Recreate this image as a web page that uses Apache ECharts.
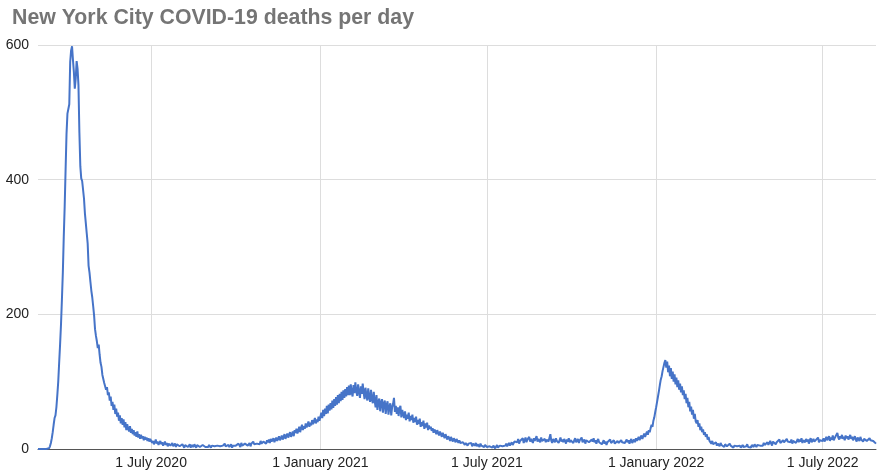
<!DOCTYPE html>
<html>
<head>
<meta charset="utf-8">
<title>New York City COVID-19 deaths per day</title>
<script src="https://cdn.jsdelivr.net/npm/echarts@6/dist/echarts.min.js"></script>
<style>
  html, body { margin: 0; padding: 0; background: #ffffff; }
  #chart { width: 877px; height: 475px; }
</style>
</head>
<body>
<div id="chart"></div>
<script>
// Daily deaths, one value per day starting on startDate.
const startDate = '2020-02-29';

// 29 Feb 2020 – 31 Dec 2020
const deaths2020 = [
  0,
  // March
  0,0,0,0,0,0,0,0,0,0,0,1,4,9,16,25,36,46,50,62,80,100,128,155,185,222,262,315,360,415,468,
  // April
  498,505,512,575,592,598,578,560,535,550,576,565,540,470,420,402,398,385,372,350,335,320,305,272,262,248,235,225,212,198,
  // May
  178,168,160,150,155,140,128,122,110,104,98,100,88,92,80,84,72,78,64,70,58,66,52,60,48,54,42,50,38,46,36,
  // June
  44,32,40,28,37,30,26,34,24,30,22,28,20,25,18,26,17,22,15,21,16,19,13,18,14,17,12,16,11,15,
  // July
  13,9,12,7,10,14,8,11,6,9,12,7,10,5,8,11,6,9,4,8,10,5,7,9,4,6,8,3,7,5,9,
  // August
  4,6,3,7,5,2,6,4,8,3,5,7,2,6,4,3,7,5,2,6,4,8,3,5,2,6,4,7,3,5,4,
  // September
  3,6,4,2,5,7,3,4,6,2,5,3,7,4,2,6,5,3,8,4,2,5,6,3,4,7,2,5,4,6,
  // October
  5,7,4,8,6,3,9,5,7,4,8,6,10,5,7,9,4,8,6,11,7,5,9,8,6,10,7,12,8,6,11,
  // November
  9,12,8,13,10,14,9,15,11,13,16,10,14,17,12,15,19,13,16,20,14,18,22,15,19,23,17,21,25,18,
  // December
  22,26,19,28,24,30,23,27,33,25,31,36,28,34,30,38,32,36,41,33,39,35,43,37,41,46,38,44,40,48,42
];

// 1 Jan 2021 – 31 Dec 2021
const deaths2021 = [
  // January
  44,54,46,58,49,60,52,64,53,66,57,68,59,72,61,74,64,77,66,80,68,82,71,85,73,87,76,89,78,92,80,
  // February
  94,80,96,84,78,95,83,99,86,79,96,85,76,93,82,97,84,74,91,80,72,90,77,70,88,74,68,85,
  // March
  72,62,80,58,70,75,56,69,74,54,67,72,52,65,71,51,63,68,50,62,67,76,55,64,52,62,49,60,64,47,58,
  // April
  52,46,56,43,51,45,54,41,49,43,51,39,46,40,48,36,43,37,45,33,40,34,42,30,38,32,39,28,35,30,
  // May
  33,27,31,24,29,26,22,28,24,20,26,22,18,24,20,16,22,18,14,19,16,12,18,14,11,16,13,10,15,12,9,
  // June
  13,9,11,7,10,12,6,9,11,5,8,10,6,9,4,8,7,5,9,4,7,6,3,8,5,4,7,3,6,4,
  // July
  3,5,2,4,6,3,2,5,4,1,3,6,2,4,5,3,7,4,2,6,5,8,4,6,9,5,7,10,6,8,11,
  // August
  9,13,10,15,8,12,14,11,16,9,13,17,10,14,12,18,11,15,13,9,16,12,14,19,11,15,13,10,17,12,14,
  // September
  12,15,10,14,16,11,13,22,12,9,15,13,10,16,12,14,9,13,17,11,14,10,15,12,8,14,11,16,10,13,
  // October
  11,14,9,13,16,10,12,15,9,13,11,17,10,12,14,8,13,11,15,10,12,9,14,11,16,10,13,8,12,15,10,
  // November
  9,12,7,10,13,8,11,6,10,12,8,14,9,7,11,13,8,10,6,12,9,11,7,13,10,8,12,9,11,14,
  // December
  10,13,8,12,15,9,11,14,10,16,12,15,18,13,17,20,15,19,23,18,22,26,21,28,25,31,36,33,42,47,55
];

// 1 Jan 2022 – 28 Aug 2022
const deaths2022 = [
  // January
  62,70,78,86,95,103,108,116,122,128,132,121,130,114,124,108,120,104,115,100,111,96,106,92,102,88,97,84,93,80,87,
  // February
  74,82,68,76,62,70,56,63,51,58,45,52,41,38,43,33,38,28,33,25,29,21,25,18,22,14,18,12,
  // March
  11,8,12,7,9,6,10,5,8,7,4,9,6,5,8,3,7,5,4,6,3,8,5,4,6,2,5,7,3,4,6,
  // April
  3,5,2,4,6,3,5,2,4,7,3,5,4,2,6,4,3,7,5,3,6,4,8,5,3,7,5,9,6,4,
  // May
  7,10,6,9,12,8,5,11,9,13,7,10,12,8,14,9,11,7,13,10,12,8,15,11,9,13,10,14,8,12,11,
  // June
  13,9,12,15,10,14,11,16,9,13,12,10,15,11,14,8,13,16,10,12,15,11,9,14,12,17,10,13,11,15,
  // July
  12,16,11,14,18,13,15,19,12,17,14,20,13,16,18,15,24,17,14,19,16,21,15,18,13,20,16,19,14,17,21,
  // August
  15,18,13,16,19,14,11,17,15,12,18,14,16,11,15,13,17,12,14,10,16,13,11,15,12,14,10,8
];

// Dates that carry a label and a vertical grid line on the time axis
const tickDates = ['2020-07-01', '2021-01-01', '2021-07-01', '2022-01-01', '2022-07-01'];
const tickLabels = ['1 July 2020', '1 January 2021', '1 July 2021', '1 January 2022', '1 July 2022'];

// Value axis range and step
const yMin = 0;
const yMax = 600;
const yStep = 200;

const values = deaths2020.concat(deaths2021, deaths2022);
const dayMs = 86400000;
const startMs = Date.parse(startDate + 'T00:00:00Z');
const dates = values.map((_, i) => new Date(startMs + i * dayMs).toISOString().slice(0, 10));

const isTickDate = (index, value) => tickDates.indexOf(value) >= 0;

const chart = echarts.init(document.getElementById('chart'), null, { renderer: 'canvas' });

chart.setOption({
  animation: false,
  backgroundColor: '#ffffff',
  title: {
    text: 'New York City COVID-19 deaths per day',
    left: 7,
    top: 3,
    textStyle: {
      fontFamily: 'Liberation Sans, Arial, sans-serif',
      fontSize: 21.3,
      fontWeight: 'bold',
      color: '#757575'
    }
  },
  grid: {
    left: 38,
    right: 1,
    top: 45,
    bottom: 26,
    containLabel: false
  },
  xAxis: {
    type: 'category',
    data: dates,
    boundaryGap: false,
    axisLine: { show: true, lineStyle: { color: '#555555', width: 1 } },
    axisTick: { show: false },
    axisLabel: {
      interval: isTickDate,
      margin: 7,
      fontFamily: 'Liberation Sans, Arial, sans-serif',
      fontSize: 14,
      color: '#222222',
      formatter: (value) => tickLabels[tickDates.indexOf(value)] || ''
    },
    splitLine: {
      show: true,
      interval: isTickDate,
      lineStyle: { color: '#dddddd', width: 1 }
    }
  },
  yAxis: {
    type: 'value',
    min: yMin,
    max: yMax,
    interval: yStep,
    axisLine: { show: false },
    axisTick: { show: false },
    axisLabel: {
      margin: 9,
      fontFamily: 'Liberation Sans, Arial, sans-serif',
      fontSize: 14,
      color: '#222222'
    },
    splitLine: { show: true, lineStyle: { color: '#dddddd', width: 1 } }
  },
  series: [{
    name: 'Deaths',
    type: 'line',
    data: values,
    showSymbol: false,
    symbol: 'none',
    lineStyle: { color: '#4674c8', width: 2 },
    itemStyle: { color: '#4674c8' }
  }]
});
</script>
</body>
</html>
